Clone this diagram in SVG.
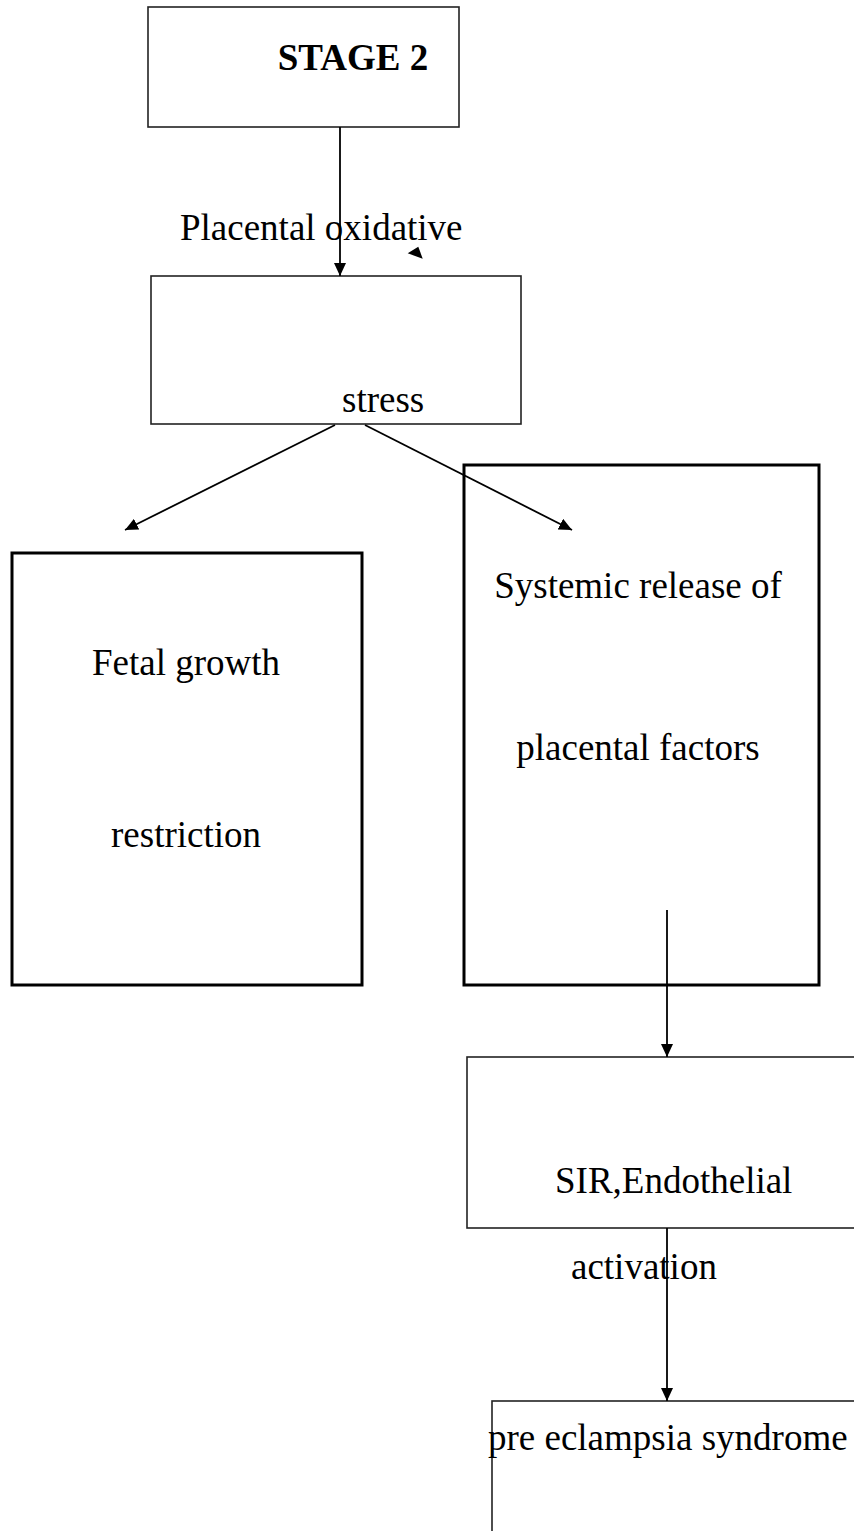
<svg xmlns="http://www.w3.org/2000/svg" width="854" height="1531" viewBox="0 0 854 1531">
<style>
.thin{fill:#fff;stroke:#222;stroke-width:1.6}
.thick{fill:#fff;stroke:#000;stroke-width:3}
.t{font-family:"Liberation Serif","Times New Roman",serif;font-size:37px;fill:#000}
.b{font-weight:bold}
.c{stroke:#000;stroke-width:1.8;fill:none}
</style>
<defs>
<marker id="ah" viewBox="0 0 13 12" refX="13" refY="6" markerWidth="13" markerHeight="12" markerUnits="userSpaceOnUse" orient="auto">
<path d="M0,0 L13,6 L0,12 Z" fill="#000"/>
</marker>
</defs>
<rect width="854" height="1531" fill="#fff"/>
<g id="stage2">
<rect class="thin" x="148" y="7" width="311" height="120"/>
<text class="t b" x="353" y="70" text-anchor="middle">STAGE 2</text>
</g>
<g id="stress">
<rect class="thin" x="151" y="276" width="370" height="148"/>
<text class="t" x="342" y="412">stress</text>
</g>
<g id="fetal">
<rect class="thick" x="12" y="553" width="350" height="432"/>
<text class="t" x="186" y="675" text-anchor="middle">Fetal growth</text>
<text class="t" x="186" y="847" text-anchor="middle">restriction</text>
</g>
<g id="systemic">
<rect class="thick" x="464" y="465" width="355" height="520"/>
<text class="t" x="638" y="598" text-anchor="middle">Systemic release of</text>
<text class="t" x="638" y="760" text-anchor="middle">placental factors</text>
</g>
<g id="sir">
<rect class="thin" x="467" y="1057" width="400" height="171"/>
<text class="t" x="555" y="1193">SIR,Endothelial</text>
</g>
<g id="preeclampsia">
<rect class="thin" x="492" y="1401" width="400" height="160"/>
<text class="t" x="488" y="1450">pre eclampsia syndrome</text>
</g>
<g id="connectors">
<line class="c" x1="340" y1="127" x2="340" y2="276" marker-end="url(#ah)"/>
<line class="c" x1="335" y1="425" x2="125" y2="530" marker-end="url(#ah)"/>
<line class="c" x1="365" y1="425" x2="572" y2="530" marker-end="url(#ah)"/>
<line class="c" x1="667" y1="910" x2="667" y2="1057" marker-end="url(#ah)"/>
<line class="c" x1="667" y1="1228" x2="667" y2="1401" marker-end="url(#ah)"/>
<polygon points="407.7,253.3 418.3,246.7 422.7,258.7" fill="#000"/>
</g>
<text class="t" x="180" y="240">Placental oxidative</text>
<text class="t" x="571" y="1279">activation</text>
</svg>
